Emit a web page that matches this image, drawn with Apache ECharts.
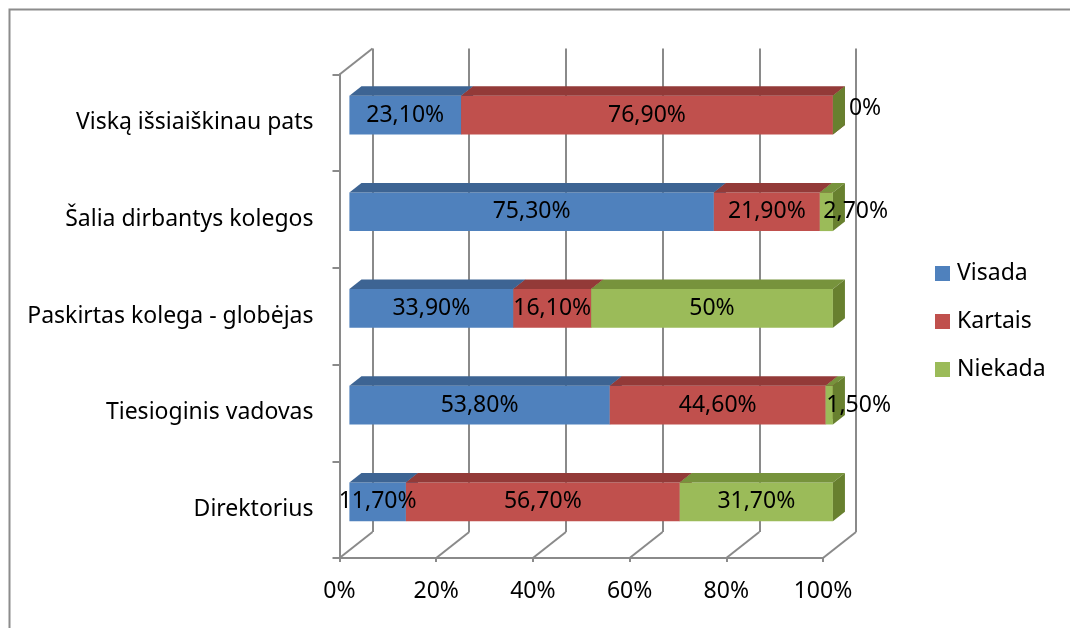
<!DOCTYPE html>
<html>
<head>
<meta charset="utf-8">
<script src="https://cdn.jsdelivr.net/npm/echarts@6/dist/echarts.min.js"></script>
<style>
  html, body { margin: 0; padding: 0; background: #fff; }
  #chart { width: 1070px; height: 628px; }
</style>
</head>
<body>
<div id="chart"></div>
<script>
// Survey answers per source of help (percent of respondents)
const categories = [
  'Viską išsiaiškinau pats',
  'Šalia dirbantys kolegos',
  'Paskirtas kolega - globėjas',
  'Tiesioginis vadovas',
  'Direktorius'
];
const seriesNames = ['Visada', 'Kartais', 'Niekada'];
const visada  = [23.1, 75.3, 33.9, 53.8, 11.7];
const kartais = [76.9, 21.9, 16.1, 44.6, 56.7];
const niekada = [0, 2.7, 50, 1.5, 31.7];
const xTicks = [0, 20, 40, 60, 80, 100];

// Face colours: front, top, side
const PALETTE = [
  { front: '#4f81bd', top: '#3d6493', side: '#385d8a' },
  { front: '#c0504d', top: '#933a38', side: '#8c3836' },
  { front: '#9bbb59', top: '#77933c', side: '#68802f' }
];

// Pseudo-3D geometry
const FRONT = { left: 339.5, top: 74.5, width: 483.5, height: 483.5 };
const DEPTH = [33, -26];          // offset from front plane to back wall
const BAR_FRONT = 0.30;           // bar front face depth (fraction of DEPTH)
const BAR_BACK = 0.665;           // bar back face depth
const BAR_HEIGHT = 0.40;          // fraction of the category band
const FONT = '"Noto Sans", "Open Sans", sans-serif';
const FONT_SIZE = 23;
const GRID_COLOR = '#8a8a8a';

const values = [visada, kartais, niekada];

function fmt(v) {
  return (Number.isInteger(v) ? String(v) : v.toFixed(2).replace('.', ',')) + '%';
}

// 100% stacked segments: [start, end, categoryIndex, rawValue]
const segments = values.map(() => []);
categories.forEach((c, i) => {
  const total = values.reduce((s, arr) => s + arr[i], 0);
  let acc = 0;
  values.forEach((arr, k) => {
    const start = acc / total * 100;
    acc += arr[i];
    const end = acc / total * 100;
    segments[k].push([start, end, i, arr[i]]);
  });
});

function barRenderer(colors) {
  return function (params, api) {
    const start = api.value(0), end = api.value(1), cat = api.value(2);
    const band = api.size([0, 1])[1];
    const h = band * BAR_HEIGHT;
    const p0 = api.coord([start, cat]);
    const p1 = api.coord([end, cat]);
    const ox = DEPTH[0] * BAR_FRONT, oy = DEPTH[1] * BAR_FRONT;
    const dx = DEPTH[0] * (BAR_BACK - BAR_FRONT), dy = DEPTH[1] * (BAR_BACK - BAR_FRONT);
    const x0 = p0[0] + ox, x1 = p1[0] + ox;
    const yc = p0[1] + oy, yt = yc - h / 2, yb = yc + h / 2;
    return {
      type: 'group',
      children: [
        { type: 'rect', shape: { x: x0, y: yt, width: Math.max(x1 - x0, 0), height: h },
          style: { fill: colors.front } },
        { type: 'polygon', shape: { points: [[x0, yt], [x1, yt], [x1 + dx, yt + dy], [x0 + dx, yt + dy]] },
          style: { fill: colors.top } },
        { type: 'polygon', shape: { points: [[x1, yt], [x1, yb], [x1 + dx, yb + dy], [x1 + dx, yt + dy]] },
          style: { fill: colors.side } }
      ]
    };
  };
}

// Label data: [start, end, categoryIndex, rawValue]
const labelData = [];
segments.forEach(arr => arr.forEach(s => labelData.push(s)));

function labelRenderer(params, api) {
  const start = api.value(0), end = api.value(1), cat = api.value(2), raw = api.value(3);
  const ox = DEPTH[0] * BAR_FRONT, oy = DEPTH[1] * BAR_FRONT;
  const mid = api.coord([(start + end) / 2, cat]);
  const small = raw < 5;
  let x = mid[0] + ox, y = mid[1] + oy, align = 'center';
  if (small) {
    align = 'left';
    x -= 3;
    if (raw === 0) { x += 19; y -= 7; }
  }
  return {
    type: 'text',
    x: x, y: y,
    style: { text: fmt(raw), fill: '#000', font: FONT_SIZE + 'px ' + FONT, align: align, verticalAlign: 'middle' }
  };
}

// Floor and side-wall edges of the 3D frame
function frameRenderer(params, api) {
  const cs = params.coordSys;
  const v = api.value(0);
  const x = api.coord([v, 0])[0];
  const yFloor = cs.y + cs.height;
  const lineStyle = { stroke: GRID_COLOR, lineWidth: 2 };
  const children = [
    { type: 'line', shape: { x1: x, y1: yFloor, x2: x + DEPTH[0], y2: yFloor + DEPTH[1] }, style: lineStyle }
  ];
  if (params.dataIndex === 0) {
    children.push({ type: 'line',
      shape: { x1: cs.x, y1: cs.y, x2: cs.x + DEPTH[0], y2: cs.y + DEPTH[1] }, style: lineStyle });
  }
  return { type: 'group', children: children };
}

const chart = echarts.init(document.getElementById('chart'), null, { renderer: 'canvas' });

const option = {
  animation: false,
  backgroundColor: '#fff',
  textStyle: { fontFamily: FONT },
  graphic: [{
    type: 'rect', left: 7, top: 7,
    shape: { x: 0, y: 0, width: 1100, height: 700 },
    style: { fill: 'none', stroke: '#8c8c8c', lineWidth: 2 },
    silent: true, z: -10
  }],
  legend: {
    data: seriesNames,
    orient: 'vertical',
    left: 930, top: 257,
    itemWidth: 15, itemHeight: 15, itemGap: 25,
    icon: 'rect',
    textStyle: { fontSize: FONT_SIZE, lineHeight: 23, color: '#000', fontFamily: FONT, padding: [0, 0, 0, 2] }
  },
  grid: [
    { left: FRONT.left, top: FRONT.top, width: FRONT.width, height: FRONT.height },
    { left: FRONT.left + DEPTH[0], top: FRONT.top + DEPTH[1], width: FRONT.width, height: FRONT.height }
  ],
  xAxis: [
    {
      gridIndex: 0, type: 'value', min: 0, max: 100, interval: 20,
      axisLine: { show: true, lineStyle: { color: GRID_COLOR, width: 2 } },
      axisTick: { show: true, length: 4, lineStyle: { color: GRID_COLOR, width: 2 } },
      axisLabel: { formatter: '{value}%', fontSize: FONT_SIZE, color: '#000', margin: 22, fontFamily: FONT },
      splitLine: { show: false }
    },
    {
      gridIndex: 1, type: 'value', min: 0, max: 100, interval: 20,
      axisLine: { show: false }, axisTick: { show: false }, axisLabel: { show: false },
      splitLine: { show: true, lineStyle: { color: GRID_COLOR, width: 2 } }
    }
  ],
  yAxis: [
    {
      gridIndex: 0, type: 'category', data: categories, inverse: true,
      axisLine: { show: true, lineStyle: { color: GRID_COLOR, width: 2 } },
      axisTick: { show: true, length: 7, lineStyle: { color: GRID_COLOR, width: 2 } },
      axisLabel: { fontSize: FONT_SIZE, color: '#000', margin: 26, fontFamily: FONT },
      splitLine: { show: false }
    },
    {
      gridIndex: 1, type: 'category', data: categories, inverse: true,
      axisLine: { show: false }, axisTick: { show: false }, axisLabel: { show: false },
      splitLine: { show: false }
    }
  ],
  series: [
    {
      type: 'custom', name: 'frame', xAxisIndex: 0, yAxisIndex: 0, z: 1, silent: true,
      data: xTicks.map(v => [v]), encode: { x: 0 },
      renderItem: frameRenderer
    },
    ...seriesNames.map((name, k) => ({
      type: 'custom', name: name, xAxisIndex: 0, yAxisIndex: 0, z: 3,
      itemStyle: { color: PALETTE[k].front },
      data: segments[k], encode: { x: [0, 1], y: 2 },
      renderItem: barRenderer(PALETTE[k])
    })),
    {
      type: 'custom', name: 'labels', xAxisIndex: 0, yAxisIndex: 0, z: 10, silent: true,
      data: labelData, encode: { x: [0, 1], y: 2 },
      renderItem: labelRenderer
    }
  ]
};

chart.setOption(option);
</script>
</body>
</html>
